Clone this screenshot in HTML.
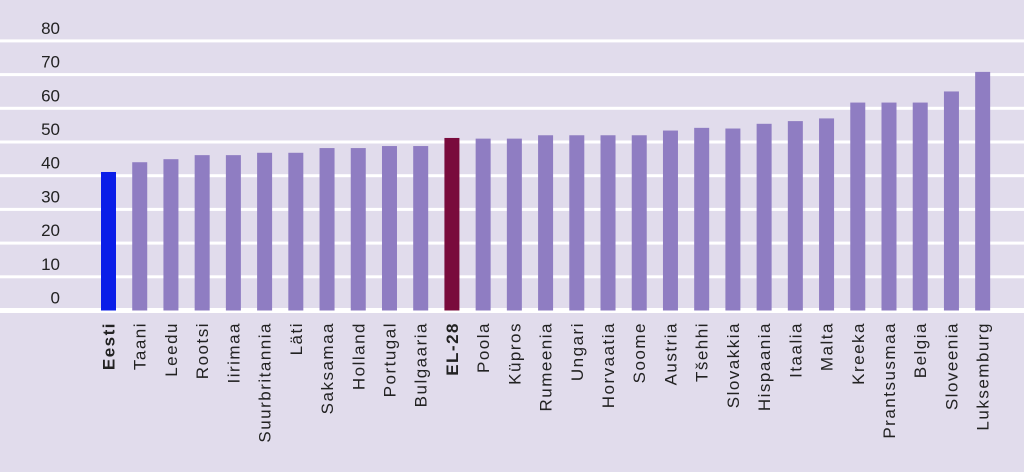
<!DOCTYPE html>
<html><head><meta charset="utf-8"><style>
html,body{margin:0;padding:0;background:#e1dcec;}
svg{display:block;font-family:"Liberation Sans",sans-serif;}
</style></head><body>
<svg id="chart" width="1024" height="472" viewBox="0 0 1024 472" xmlns="http://www.w3.org/2000/svg">
<rect x="0" y="0" width="1024" height="472" fill="#e1dcec"/>
<g id="grid"></g><g id="yaxis"></g><g id="bars"></g><g id="xaxis"></g>
</svg>
<script>
const categories=["Eesti","Taani","Leedu","Rootsi","Iirimaa","Suurbritannia","Läti","Saksamaa","Holland","Portugal","Bulgaaria","EL-28","Poola","Küpros","Rumeenia","Ungari","Horvaatia","Soome","Austria","Tšehhi","Slovakkia","Hispaania","Itaalia","Malta","Kreeka","Prantsusmaa","Belgia","Sloveenia","Luksemburg"];
const values=[41.1,44.0,44.9,46.1,46.1,46.8,46.8,48.2,48.2,48.8,48.8,51.2,51.0,51.0,52.0,52.0,52.0,52.0,53.4,54.2,54.0,55.4,56.2,57.0,61.7,61.7,61.7,65.0,70.8];
const yTicks=[0,10,20,30,40,50,60,70,80];
const boldCats=["Eesti","EL-28"];
const NS="http://www.w3.org/2000/svg";
function y(v){return 310.5-v*3.37;}
function x(i){return 108.5+i*31.22;}
const grid=document.getElementById('grid'),ya=document.getElementById('yaxis'),bars=document.getElementById('bars'),xa=document.getElementById('xaxis');
yTicks.forEach(t=>{
 const l=document.createElementNS(NS,'rect');
 
 
 l.setAttribute('x',0);l.setAttribute('width',1024);
 const h=t===0?5:3;
 l.setAttribute('y',y(t)-h/2);l.setAttribute('height',h);l.setAttribute('fill','#ffffff');
 grid.appendChild(l);
 const tx=document.createElementNS(NS,'text');
 
 
 tx.setAttribute('x',60);tx.setAttribute('y',y(t)-7);tx.setAttribute('text-anchor','end');
 tx.setAttribute('font-size','17');tx.setAttribute('fill','#222');
 tx.textContent=t;ya.appendChild(tx);
});
categories.forEach((c,i)=>{
 const r=document.createElementNS(NS,'rect');
 
 
 r.setAttribute('x',x(i)-7.5);r.setAttribute('width',15);
 r.setAttribute('y',y(values[i]));r.setAttribute('height',y(0)-y(values[i]));
 r.setAttribute('fill',c==="Eesti"?'#0a1ee8':(c==="EL-28"?'#790b3c':'#8f7dc2'));
 bars.appendChild(r);
 const t=document.createElementNS(NS,'text');
 
 
 const px=x(i)+6,py=322;
 t.setAttribute('x',px);t.setAttribute('y',py);
 t.setAttribute('transform','rotate(-90 '+px+' '+py+')');
 t.setAttribute('text-anchor','end');t.setAttribute('font-size','17');t.setAttribute('fill','#222');
 t.setAttribute('letter-spacing','1.5');
 if(boldCats.includes(c))t.setAttribute('font-weight','bold');
 t.textContent=c;xa.appendChild(t);
});
</script>
</body></html>
